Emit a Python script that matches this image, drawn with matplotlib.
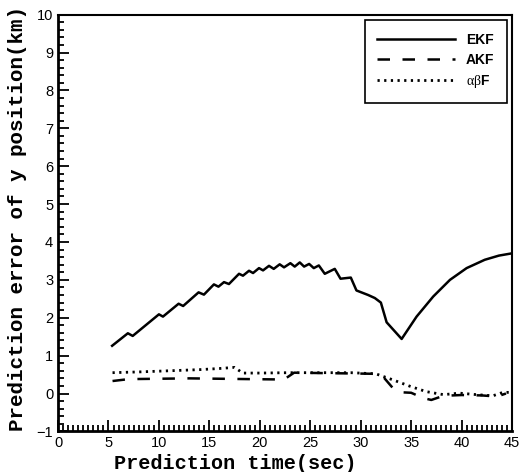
import matplotlib.pyplot as plt
from matplotlib.ticker import MultipleLocator

plt.rcParams['mathtext.fontset'] = 'custom'
plt.rcParams['mathtext.rm'] = 'Liberation Serif'
plt.rcParams['mathtext.bf'] = 'Liberation Sans:bold'

# EKF
ekf_t = [5.36, 6.92, 7.4, 10.0, 10.4, 11.95, 12.4, 13.93, 14.46, 15.45, 15.9, 16.45, 16.94,
         17.94, 18.33, 18.93, 19.33, 19.92, 20.32, 20.91, 21.38, 21.97, 22.4, 23.03, 23.46,
         23.96, 24.39, 24.89, 25.35, 25.85, 26.44, 27.43, 28.0, 29.02, 29.58, 30.74, 31.4,
         32.0, 32.57, 34.06, 35.54, 37.19, 38.85, 40.5, 42.3, 43.7, 45.0]
ekf_e = [1.26, 1.59, 1.52, 2.09, 2.03, 2.37, 2.31, 2.67, 2.61, 2.88, 2.82, 2.94, 2.89,
         3.16, 3.11, 3.24, 3.18, 3.31, 3.25, 3.37, 3.29, 3.41, 3.33, 3.44, 3.35,
         3.46, 3.35, 3.42, 3.31, 3.38, 3.16, 3.29, 3.03, 3.06, 2.72, 2.6, 2.52,
         2.40, 1.88, 1.44, 2.03, 2.56, 3.0, 3.31, 3.53, 3.64, 3.70]

# AKF
akf_t = [5.4, 7.0, 10.0, 13.0, 16.0, 19.0, 22.4, 23.4, 26.0, 29.0, 31.5, 32.2, 33.2,
         34.2, 35.0, 36.2, 37.0, 38.2, 40.0, 42.0, 43.5, 44.4]
akf_e = [0.33, 0.38, 0.39, 0.40, 0.39, 0.38, 0.37, 0.55, 0.54, 0.53, 0.52, 0.45, 0.14,
         0.03, 0.02, -0.12, -0.17, -0.06, -0.04, -0.05, -0.08, 0.0]

# alpha-beta filter
abf_t = [5.4, 8.0, 11.0, 14.0, 16.0, 17.5, 18.3, 20.0, 23.0, 26.0, 29.0, 31.5, 33.2,
         34.9, 36.5, 38.2, 39.8, 41.5, 43.1, 44.1, 45.0]
abf_e = [0.55, 0.57, 0.60, 0.63, 0.66, 0.69, 0.54, 0.54, 0.55, 0.55, 0.55, 0.52, 0.36,
         0.19, 0.05, -0.03, 0.01, -0.03, -0.06, 0.03, 0.03]

fig = plt.figure(figsize=(5.23, 4.72), dpi=100)
ax = fig.add_axes([0.111, 0.086, 0.868, 0.883])

ax.plot(ekf_t, ekf_e, color='black', lw=1.8, label='EKF')
ax.plot(akf_t, akf_e, color='black', lw=1.8, linestyle=(0, (5, 5)), label='AKF')
ax.plot(abf_t, abf_e, color='black', lw=2.0, linestyle=(0, (0.8, 1.6)),
        label=r'$\mathrm{\alpha\beta}\mathbf{F}$')

ax.set_xlim(0, 45)
ax.set_ylim(-1, 10)
ax.xaxis.set_major_locator(MultipleLocator(5))
ax.xaxis.set_minor_locator(MultipleLocator(0.5))
ax.yaxis.set_major_locator(MultipleLocator(1))
ax.yaxis.set_minor_locator(MultipleLocator(0.2))
ax.tick_params(which='both', direction='in', top=False, right=False, width=1.3,
               labelsize=10.5)
ax.tick_params(which='major', length=8)
ax.tick_params(which='minor', length=4)
for lab in ax.get_xticklabels() + ax.get_yticklabels():
    lab.set_fontfamily('Liberation Sans')
for s in ['left', 'bottom']:
    ax.spines[s].set_linewidth(2)
for s in ['top', 'right']:
    ax.spines[s].set_linewidth(1.5)

ax.set_xlabel('Prediction time(sec)', fontfamily='Liberation Mono', fontweight='bold',
              fontsize=14.5)
ax.xaxis.set_label_coords(0.39, -0.055)
ax.set_ylabel('Prediction error of y position(km)', fontfamily='Liberation Mono',
              fontweight='bold', fontsize=15)
ax.yaxis.set_label_coords(-0.068, 0.51)

leg = ax.legend(loc='upper right', bbox_to_anchor=(0.989, 0.987), borderaxespad=0,
                fancybox=False, edgecolor='black', framealpha=1, handlelength=5.6,
                handletextpad=0.8,
                prop={'family': 'Liberation Sans', 'weight': 'bold', 'size': 10},
                borderpad=0.9, labelspacing=0.45)
leg.get_frame().set_linewidth(1.2)

fig.savefig('out.png', dpi=100)
